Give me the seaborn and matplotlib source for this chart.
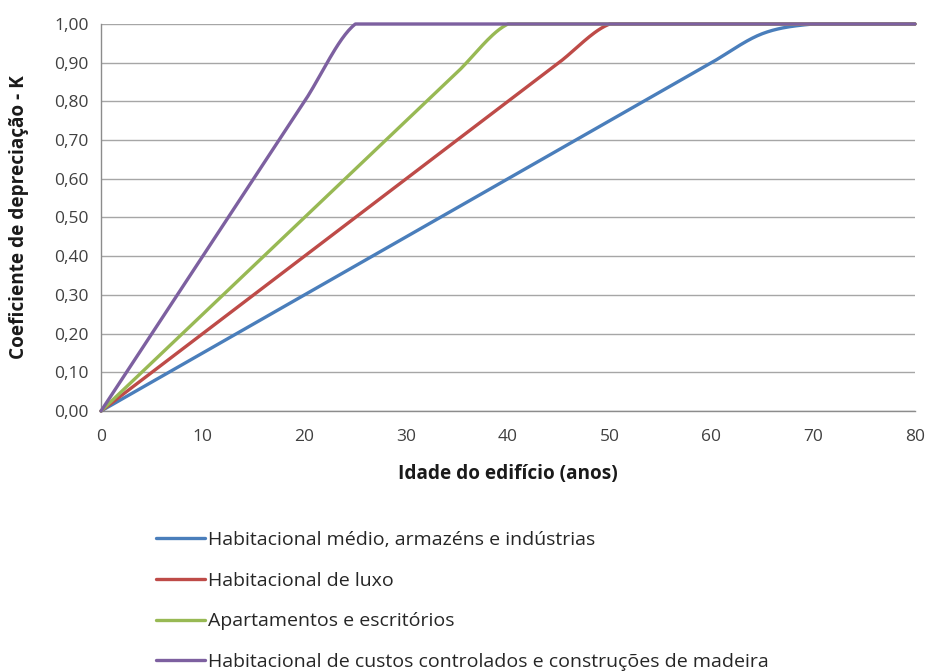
import numpy as np
import pandas as pd
import matplotlib
matplotlib.use("Agg")
import matplotlib.pyplot as plt
from matplotlib.ticker import FuncFormatter
import seaborn as sns

# Building age (years) and depreciation coefficient K per building type
idade = [0, 5, 10, 15, 20, 25, 30, 35, 40, 45, 50, 55, 60, 65, 70, 75, 80]
k_medio = [0.0, 0.075, 0.15, 0.225, 0.30, 0.375, 0.45, 0.525, 0.60, 0.675,
           0.75, 0.825, 0.90, 0.975, 1.0, 1.0, 1.0]
k_luxo = [0.0, 0.10, 0.20, 0.30, 0.40, 0.50, 0.60, 0.70, 0.80, 0.90,
          1.0, 1.0, 1.0, 1.0, 1.0, 1.0, 1.0]
k_apart = [0.0, 0.125, 0.25, 0.375, 0.50, 0.625, 0.75, 0.875, 1.0, 1.0,
           1.0, 1.0, 1.0, 1.0, 1.0, 1.0, 1.0]
k_custos = [0.0, 0.20, 0.40, 0.60, 0.80, 1.0, 1.0, 1.0, 1.0, 1.0,
            1.0, 1.0, 1.0, 1.0, 1.0, 1.0, 1.0]

series = {
    "Habitacional médio, armazéns e indústrias": k_medio,
    "Habitacional de luxo": k_luxo,
    "Apartamentos e escritórios": k_apart,
    "Habitacional de custos controlados e construções de madeira": k_custos,
}
cores = ["#4A7EBB", "#BE4B48", "#98B954", "#7D60A0"]


def smooth(x, y, n=30):
    """Catmull-Rom smoothed path through the points (spreadsheet-style smoothed line)."""
    x = np.asarray(x, float)
    y = np.asarray(y, float)
    px = np.concatenate([[x[0]], x, [x[-1]]])
    py = np.concatenate([[y[0]], y, [y[-1]]])
    xs, ys = [], []
    t = np.linspace(0, 1, n, endpoint=False)
    for i in range(1, len(px) - 2):
        p0, p1, p2, p3 = (np.array([px[j], py[j]]) for j in range(i - 1, i + 3))
        m1 = (p2 - p0) / 2
        m2 = (p3 - p1) / 2
        h00 = 2 * t**3 - 3 * t**2 + 1
        h10 = t**3 - 2 * t**2 + t
        h01 = -2 * t**3 + 3 * t**2
        h11 = t**3 - t**2
        pts = (np.outer(h00, p1) + np.outer(h10, m1) +
               np.outer(h01, p2) + np.outer(h11, m2))
        xs.append(pts[:, 0])
        ys.append(pts[:, 1])
    xs.append([x[-1]])
    ys.append([y[-1]])
    return np.concatenate(xs), np.concatenate(ys)


frames = []
for nome, vals in series.items():
    sx, sy = smooth(idade, vals)
    frames.append(pd.DataFrame({"idade": sx, "k": np.minimum(sy, 1.0), "tipo": nome}))
df = pd.concat(frames, ignore_index=True)

sns.set_theme(style="white")
plt.rcParams["font.family"] = ["Open Sans", "DejaVu Sans"]

fig = plt.figure(figsize=(9.27, 6.72), dpi=100)
ax = fig.add_axes([0.109, 0.3884, 0.878, 0.5759])

sns.lineplot(data=df, x="idade", y="k", hue="tipo", palette=cores,
             linewidth=2.4, ax=ax, sort=False, estimator=None, legend=True,
             clip_on=False, zorder=3)

ax.set_xlim(0, 80)
ax.set_ylim(0, 1.0)
ax.set_xticks(range(0, 81, 10))
ax.set_yticks(np.arange(0, 1.01, 0.1))
ax.yaxis.set_major_formatter(FuncFormatter(lambda v, _: f"{v:.2f}".replace(".", ",")))
ax.tick_params(axis="both", labelsize=12.5, colors="#404040", length=0)
ax.tick_params(axis="x", pad=13)
ax.tick_params(axis="y", pad=9)
ax.grid(axis="y", color="#a6a6a6", linewidth=1.0)
ax.grid(axis="x", visible=False)
for s in ["top", "right"]:
    ax.spines[s].set_visible(False)
for s in ["left", "bottom"]:
    ax.spines[s].set_color("#8c8c8c")
    ax.spines[s].set_linewidth(1.0)

ax.set_xlabel("Idade do edifício (anos)", fontsize=13.7, fontweight="bold",
              color="#1a1a1a", labelpad=14)
ax.set_ylabel("Coeficiente de depreciação - K", fontsize=13.7, fontweight="bold",
              color="#1a1a1a", labelpad=18)

handles, labels = ax.get_legend_handles_labels()
ax.legend_.remove()
fig.legend(handles, labels, loc="upper left", bbox_to_anchor=(0.149, 0.236),
           frameon=False, fontsize=14, handlelength=2.55, handletextpad=0.12,
           labelspacing=1.17, labelcolor="#262626")

fig.savefig("out.png", dpi=100)
